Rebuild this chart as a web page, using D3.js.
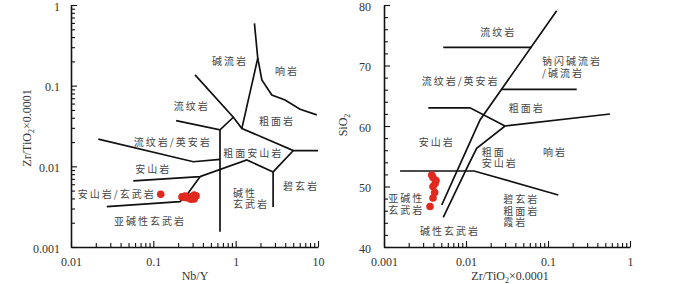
<!DOCTYPE html>
<html>
<head>
<meta charset="utf-8">
<script src="https://cdn.jsdelivr.net/npm/d3@7"></script>
<style>
  body { margin: 0; background: #fff; }
  .field { font-family: "Noto Sans CJK SC", sans-serif; font-size: 10px; letter-spacing: 2px; fill: #444; }
  .tick text, .title { font-family: "Liberation Serif", serif; font-size: 12px; fill: #333; }
</style>
</head>
<body>
<script>
// ---- data: left diagram (Zr/TiO2 vs Nb/Y) ----
var leftXTicks = [0.01, 0.1, 1, 10];
var leftYTicks = [0.001, 0.01, 0.1, 1];

var leftLines = [
  [[0.321, 0.136], [0.937, 0.0406], [1.19, 0.0295], [5.02, 0.0157], [10, 0.0157]],
  [[0.189, 0.0368], [0.645, 0.0283], [0.937, 0.0406]],
  [[0.645, 0.0283], [0.645, 0.00154]],
  [[0.0215, 0.0217], [0.306, 0.0114], [0.645, 0.0122]],
  [[0.0571, 0.00659], [0.369, 0.00745], [1.364, 0.012], [2.85, 0.00853], [5.02, 0.0157]],
  [[2.85, 0.00853], [2.85, 0.00314]],
  [[0.0272, 0.00317], [0.211, 0.00365], [0.255, 0.00442], [0.369, 0.00745]],
  [[1.69, 0.593], [1.855, 0.219], [1.19, 0.0295]],
  [[1.855, 0.219], [2.08, 0.118], [2.75, 0.0767], [3.98, 0.0665], [6.06, 0.051], [9.67, 0.0434]]
];

var leftLabels = [
  {text: ["碱流岩"], x: 0.855, y: 0.208, anchor: "middle"},
  {text: ["响岩"], x: 4.21, y: 0.157, anchor: "middle"},
  {text: ["粗面岩"], x: 3.18, y: 0.0376, anchor: "middle"},
  {text: ["流纹岩"], x: 0.293, y: 0.0568, anchor: "middle"},
  {text: ["流纹岩/英安岩"], x: 0.172, y: 0.0208, anchor: "middle"},
  {text: ["粗面安山岩"], x: 1.64, y: 0.0152, anchor: "middle"},
  {text: ["安山岩"], x: 0.1, y: 0.00964, anchor: "middle"},
  {text: ["安山岩/玄武岩"], x: 0.0359, y: 0.00464, anchor: "middle"},
  {text: ["亚碱性玄武岩"], x: 0.0912, y: 0.00217, anchor: "middle"},
  {text: ["碱性", "玄武岩"], x: 0.929, y: 0.00486, anchor: "start"},
  {text: ["碧玄岩"], x: 6.23, y: 0.00589, anchor: "middle"}
];

var leftNbY = [0.123, 0.223, 0.243, 0.264, 0.287, 0.313, 0.330, 0.313, 0.287, 0.243];
var leftZrTi = [0.00451, 0.00418, 0.00428, 0.00405, 0.00418, 0.00442, 0.00430, 0.00394, 0.00390, 0.00412];

// ---- data: right diagram (SiO2 vs Zr/TiO2) ----
var rightXTicks = [0.001, 0.01, 0.1, 1];
var rightYTicks = [40, 50, 60, 70, 80];

var rightLines = [
  [[0.00528, 73], [0.0632, 73]],
  [[0.1276, 79.06], [0.01483, 60.99], [0.00771, 52.45], [0.00506, 46.94]],
  [[0.57, 61.98], [0.0299, 60.0], [0.01348, 56.31], [0.01, 52.73], [0.00528, 44.91]],
  [[0.0272, 66.07], [0.224, 66.07]],
  [[0.00347, 63], [0.01119, 63], [0.0299, 60]],
  [[0.00157, 52.56], [0.01253, 52.56], [0.1336, 48.6]]
];

var rightLabels = [
  {text: ["流纹岩"], x: 0.0248, y: 75.75, anchor: "middle"},
  {text: ["钠闪碱流岩", "/碱流岩"], x: 0.0845, y: 70.9, anchor: "start"},
  {text: ["流纹岩/英安岩"], x: 0.00861, y: 67.6, anchor: "middle"},
  {text: ["粗面岩"], x: 0.055, y: 63.09, anchor: "middle"},
  {text: ["安山岩"], x: 0.0044, y: 57.57, anchor: "middle"},
  {text: ["粗面", "安山岩"], x: 0.01552, y: 55.92, anchor: "start"},
  {text: ["响岩"], x: 0.1216, y: 55.92, anchor: "middle"},
  {text: ["亚碱性", "玄武岩"], x: 0.001128, y: 48.21, anchor: "start"},
  {text: ["碱性玄武岩"], x: 0.00638, y: 42.81, anchor: "middle"},
  {text: ["碧玄岩", "粗面岩", "霞岩"], x: 0.0285, y: 48.05, anchor: "start"}
];

var rightZrTi = [0.00382, 0.00396, 0.00431, 0.00420, 0.00396, 0.00415, 0.00396, 0.00364];
var rightSiO2 = [51.9, 51.5, 51.0, 50.5, 50.0, 49.0, 48.1, 46.7];

// ---- drawing ----
var svg = d3.select("body").append("svg")
    .attr("width", 700)
    .attr("height", 284);

var fmt = d3.format("~g");

const drawAxes = (xScale, yScale, xMajor, yMajor, yMinorStep, yPad) => {
    var bottom = yScale.range()[0];
    var left = xScale.range()[0];

    var xMinor = xScale.ticks().filter(function (d) { return xMajor.indexOf(d) < 0; });
    var yMinor = yMinorStep ? yScale.ticks(yMinorStep) : yScale.ticks();
    yMinor = yMinor.filter(function (d) { return yMajor.indexOf(d) < 0; });

    svg.append("g")
        .attr("transform", "translate(0," + bottom + ")")
        .call(d3.axisBottom(xScale).tickValues(xMinor).tickSize(-4).tickFormat(""))
        .call(function (g) { g.select(".domain").remove(); });
    var xa = svg.append("g")
        .attr("transform", "translate(0," + bottom + ")")
        .call(d3.axisBottom(xScale).tickValues(xMajor).tickSizeInner(-6).tickSizeOuter(0)
            .tickPadding(10).tickFormat(fmt));

    svg.append("g")
        .attr("transform", "translate(" + left + ",0)")
        .call(d3.axisLeft(yScale).tickValues(yMinor).tickSize(-4).tickFormat(""))
        .call(function (g) { g.select(".domain").remove(); });
    var ya = svg.append("g")
        .attr("transform", "translate(" + left + ",0)")
        .call(d3.axisLeft(yScale).tickValues(yMajor).tickSizeInner(-6).tickSizeOuter(0)
            .tickPadding(yPad).tickFormat(fmt));
    ya.selectAll(".tick text").attr("dy", "0.42em");

    svg.selectAll(".domain").attr("stroke", "#111").attr("stroke-width", 1.6);
    svg.selectAll(".tick line").attr("stroke", "#111").attr("stroke-width", 1.1);
    xa.attr("font-family", null).attr("font-size", null);
    ya.attr("font-family", null).attr("font-size", null);
};

const drawLines = (xScale, yScale, lines) => {
    var line = d3.line()
        .x(function (d) { return xScale(d[0]); })
        .y(function (d) { return yScale(d[1]); });
    svg.append("g").selectAll("path")
        .data(lines)
        .enter()
        .append("path")
        .attr("d", line)
        .attr("fill", "none")
        .attr("stroke", "#111")
        .attr("stroke-width", 1.7);
};

const drawLabels = (xScale, yScale, labels) => {
    var t = svg.append("g").selectAll("text")
        .data(labels)
        .enter()
        .append("text")
        .attr("class", "field")
        .attr("text-anchor", function (d) { return d.anchor; })
        .attr("dominant-baseline", "central");
    t.each(function (d) {
        var el = d3.select(this);
        d.text.forEach(function (s, i) {
            el.append("tspan")
                .attr("x", xScale(d.x))
                .attr("y", yScale(d.y) + i * 11.5)
                .text(s);
        });
    });
};

const drawPoints = (xScale, yScale, xs, ys) => {
    svg.append("g").selectAll("circle")
        .data(xs)
        .enter()
        .append("circle")
        .attr("cx", function (d) { return xScale(d); })
        .attr("cy", function (d, i) { return yScale(ys[i]); })
        .attr("r", 3.8)
        .attr("fill", "#e2291f");
};

// left panel
var xL = d3.scaleLog().domain([0.01, 10]).range([71, 318]);
var yL = d3.scaleLog().domain([0.001, 1]).range([247, 5]);
drawAxes(xL, yL, leftXTicks, leftYTicks, 0, 11);
drawLines(xL, yL, leftLines);
drawLabels(xL, yL, leftLabels);
drawPoints(xL, yL, leftNbY, leftZrTi);

// right panel
var xR = d3.scaleLog().domain([0.001, 1]).range([384, 630]);
var yR = d3.scaleLinear().domain([40, 80]).range([247, 5]);
drawAxes(xR, yR, rightXTicks, rightYTicks, 20, 13);
drawLines(xR, yR, rightLines);
drawLabels(xR, yR, rightLabels);
drawPoints(xR, yR, rightZrTi, rightSiO2);

// axis titles
var yTitleL = svg.append("text").attr("class", "title")
    .attr("transform", "translate(31,128) rotate(-90)")
    .attr("text-anchor", "middle");
yTitleL.append("tspan").text("Zr/TiO");
yTitleL.append("tspan").attr("font-size", "8px").attr("dy", 3).text("2");
yTitleL.append("tspan").attr("dy", -3).text("×0.0001");

svg.append("text").attr("class", "title")
    .attr("x", 195).attr("y", 280)
    .attr("text-anchor", "middle")
    .text("Nb/Y");

var yTitleR = svg.append("text").attr("class", "title")
    .attr("transform", "translate(347,125) rotate(-90)")
    .attr("text-anchor", "middle");
yTitleR.append("tspan").text("SiO");
yTitleR.append("tspan").attr("font-size", "8px").attr("dy", 3).text("2");

var xTitleR = svg.append("text").attr("class", "title")
    .attr("x", 510).attr("y", 280)
    .attr("text-anchor", "middle");
xTitleR.append("tspan").text("Zr/TiO");
xTitleR.append("tspan").attr("font-size", "8px").attr("dy", 3).text("2");
xTitleR.append("tspan").attr("dy", -3).text("×0.0001");
</script>
</body>
</html>
